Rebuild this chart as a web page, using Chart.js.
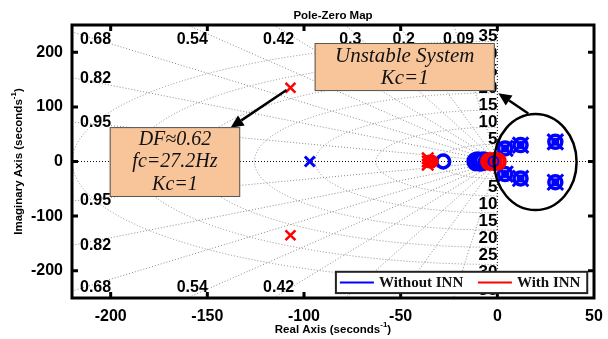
<!DOCTYPE html>
<html>
<head>
<meta charset="utf-8">
<script src="https://cdn.jsdelivr.net/npm/chart.js@4.4.1/dist/chart.umd.min.js"></script>
<style>
  html, body { margin: 0; padding: 0; background: #fff; }
  #wrap { width: 608px; height: 339px; }
</style>
</head>
<body>
<div id="wrap"><canvas id="pz" width="608" height="339"></canvas></div>
<script>
// axis ticks
const xTicks = [-200, -150, -100, -50, 0, 50];
const yTicks = [-200, -100, 0, 100, 200];

// sgrid: damping ratios and natural frequencies (Hz)
const dampingRatios = [0.09, 0.2, 0.3, 0.42, 0.54, 0.68, 0.82, 0.95];
const freqHz = [5, 10, 15, 20, 25, 30, 35];

const seriesNames = ['Without INN', 'With INN'];

// Without INN (blue)
const woPoleRe = [-97, 4, 4, 12, 12, 30, 30];
const woPoleIm = [0, 24, -23, 30, -31, 36, -38];
const woZeroRe = [-28, -11, -10, -9, -8, -7, -6, -5, -4, -3, 4, 4, 12, 12, 30, 30];
const woZeroIm = [0, 0, 1, -1, 0, 1, -1, 0, 0, 0, 24, -23, 30, -31, 36, -38];
const woRepeatRe = [-2, 4, 4, 12, 12, 30, 30];
const woRepeatIm = [0, 24, -23, 30, -31, 36, -38];

// With INN (red)
const wPoleRe = [-107, -107, -36, -36, -36];
const wPoleIm = [135, -135, 6, 0, -6];
const wZeroRe = [-35, -34, -4, -2, 0];
const wZeroIm = [0, 0, 0, 0, 0];

// annotation texts
const dfText = ['DF\u22480.62', 'fc=27.2Hz', 'Kc=1'];
const unstableText = ['Unstable System', 'Kc=1'];

const BLUE = 'rgb(0,0,255)';
const RED = 'rgb(255,0,0)';
const SANS = '"Liberation Sans", Arial, sans-serif';
const SERIF = '"Liberation Serif", "Times New Roman", serif';

const pts = (re, im) => re.map((v, i) => ({ x: v, y: im[i] }));

function arrow(ctx, x1, y1, x2, y2) {
    const ang = Math.atan2(y2 - y1, x2 - x1);
    const hl = 13, hw = 6;
    const bx = x2 - hl * Math.cos(ang), by = y2 - hl * Math.sin(ang);
    ctx.beginPath();
    ctx.moveTo(x1, y1);
    ctx.lineTo(bx, by);
    ctx.stroke();
    ctx.beginPath();
    ctx.moveTo(x2, y2);
    ctx.lineTo(bx + hw * Math.sin(ang), by - hw * Math.cos(ang));
    ctx.lineTo(bx - hw * Math.sin(ang), by + hw * Math.cos(ang));
    ctx.closePath();
    ctx.fill();
}

function textBox(ctx, x, y, box, lines, size, gap) {
    const l = x.getPixelForValue(box[0]), t = y.getPixelForValue(box[1]);
    const r = x.getPixelForValue(box[2]), b = y.getPixelForValue(box[3]);
    ctx.fillStyle = '#f8c59b';
    ctx.fillRect(l, t, r - l, b - t);
    ctx.strokeStyle = '#555';
    ctx.lineWidth = 1;
    ctx.strokeRect(l + 0.5, t + 0.5, r - l - 1, b - t - 1);
    ctx.fillStyle = '#111';
    ctx.font = 'italic ' + size + 'px ' + SERIF;
    ctx.textAlign = 'center';
    ctx.textBaseline = 'middle';
    const cx = (l + r) / 2, cy = (t + b) / 2;
    lines.forEach((s, i) => ctx.fillText(s, cx, cy + (i - (lines.length - 1) / 2) * gap));
}

const pzPlugin = {
    id: 'pzPlugin',
    beforeDatasetsDraw(chart) {
        const { ctx, chartArea: a, scales: { x, y } } = chart;
        const x0 = x.getPixelForValue(0), y0 = y.getPixelForValue(0);
        const sx = x.getPixelForValue(1) - x0, sy = y0 - y.getPixelForValue(1);
        ctx.save();
        ctx.beginPath();
        ctx.rect(a.left, a.top, a.right - a.left, a.bottom - a.top);
        ctx.clip();
        ctx.setLineDash([1, 2]);
        ctx.lineWidth = 1;
        ctx.strokeStyle = '#8a8a8a';
        // natural frequency semicircles
        freqHz.forEach(f => {
            const w = 2 * Math.PI * f;
            ctx.beginPath();
            ctx.ellipse(x0, y0, w * sx, w * sy, 0, Math.PI / 2, 3 * Math.PI / 2);
            ctx.stroke();
        });
        // damping rays
        dampingRatios.forEach(z => {
            const s = Math.sqrt(1 - z * z);
            [1, -1].forEach(sg => {
                ctx.beginPath();
                ctx.moveTo(x0, y0);
                ctx.lineTo(x.getPixelForValue(-z * 1000), y.getPixelForValue(sg * s * 1000));
                ctx.stroke();
            });
        });
        // real and imaginary axes
        ctx.strokeStyle = '#111';
        ctx.beginPath();
        ctx.moveTo(a.left, y0); ctx.lineTo(a.right, y0);
        ctx.moveTo(x0, a.top); ctx.lineTo(x0, a.bottom);
        ctx.stroke();
        ctx.restore();

        // grid labels
        ctx.save();
        ctx.fillStyle = '#000';
        ctx.font = 'bold 16px ' + SANS;
        const xmin = x.min, ymax = y.max;
        dampingRatios.forEach(z => {
            const s = Math.sqrt(1 - z * z);
            const tTop = ymax / s, tLeft = -xmin / z;
            [1, -1].forEach(sg => {
                ctx.textBaseline = 'middle';
                if (tTop <= tLeft) {
                    ctx.textAlign = 'center';
                    const px = x.getPixelForValue(-z * tTop) + 5;
                    ctx.fillText(String(z), px, sg > 0 ? a.top + 15 : a.bottom - 10);
                } else {
                    ctx.textAlign = 'left';
                    let py = y.getPixelForValue(sg * s * tLeft);
                    py = sg > 0 ? Math.max(py + 1, a.top + 15) : Math.min(py, a.bottom - 10);
                    ctx.fillText(String(z), a.left + 8, py);
                }
            });
        });
        ctx.font = 'bold 17px ' + SANS;
        ctx.textAlign = 'right';
        ctx.textBaseline = 'alphabetic';
        freqHz.forEach(f => {
            const w = 2 * Math.PI * f;
            ctx.fillText(String(f), x0, y.getPixelForValue(w));
            ctx.fillText(String(f), x0, y.getPixelForValue(-w) + 13);
        });
        ctx.restore();
    },
    afterDraw(chart) {
        const { ctx, chartArea: a, scales: { x, y } } = chart;
        ctx.save();
        // frame and inward ticks
        ctx.strokeStyle = '#000';
        ctx.lineWidth = 3;
        ctx.strokeRect(a.left, a.top, a.right - a.left, a.bottom - a.top);
        ctx.beginPath();
        xTicks.forEach(v => {
            const px = x.getPixelForValue(v);
            if (px <= a.left + 2 || px >= a.right - 2) return;
            ctx.moveTo(px, a.top); ctx.lineTo(px, a.top + 6);
            ctx.moveTo(px, a.bottom); ctx.lineTo(px, a.bottom - 6);
        });
        yTicks.forEach(v => {
            const py = y.getPixelForValue(v);
            ctx.moveTo(a.left, py); ctx.lineTo(a.left + 6, py);
            ctx.moveTo(a.right, py); ctx.lineTo(a.right - 6, py);
        });
        ctx.stroke();

        // title
        ctx.fillStyle = '#000';
        ctx.textAlign = 'center';
        ctx.textBaseline = 'middle';
        ctx.font = 'bold 11.5px ' + SANS;
        ctx.fillText('Pole-Zero Map', (a.left + a.right) / 2, 16);

        // axis titles with superscript
        const supTitle = (pre, cx, cy) => {
            ctx.font = 'bold 11.5px ' + SANS;
            const w1 = ctx.measureText(pre).width;
            ctx.font = 'bold 8px ' + SANS;
            const w2 = ctx.measureText('-1').width;
            ctx.font = 'bold 11.5px ' + SANS;
            const w3 = ctx.measureText(')').width;
            let sx0 = cx - (w1 + w2 + w3) / 2;
            ctx.textAlign = 'left';
            ctx.fillText(pre, sx0, cy);
            ctx.font = 'bold 8px ' + SANS;
            ctx.fillText('-1', sx0 + w1, cy - 5);
            ctx.font = 'bold 11.5px ' + SANS;
            ctx.fillText(')', sx0 + w1 + w2, cy);
        };
        supTitle('Real Axis (seconds', (a.left + a.right) / 2, 330);
        ctx.save();
        ctx.translate(19, (a.top + a.bottom) / 2);
        ctx.rotate(-Math.PI / 2);
        supTitle('Imaginary Axis (seconds', 0, 0);
        ctx.restore();

        // annotation ellipse around unstable poles
        ctx.strokeStyle = '#000';
        ctx.lineWidth = 2.5;
        const ecx = x.getPixelForValue(19.7), ecy = y.getPixelForValue(-1);
        const erx = x.getPixelForValue(19.7 + 21.3) - ecx, ery = ecy - y.getPixelForValue(-1 + 88);
        ctx.beginPath();
        ctx.ellipse(ecx, ecy, erx, ery, 0, 0, 2 * Math.PI);
        ctx.stroke();

        // arrows
        ctx.fillStyle = '#000';
        ctx.lineWidth = 2.5;
        arrow(ctx, x.getPixelForValue(-109), y.getPixelForValue(131), x.getPixelForValue(-138), y.getPixelForValue(62));
        arrow(ctx, x.getPixelForValue(16), y.getPixelForValue(88), x.getPixelForValue(0.5), y.getPixelForValue(125));

        // text boxes
        textBox(ctx, x, y, [-200.5, 63, -133, -65], dfText, 20, 22.5);
        textBox(ctx, x, y, [-94.5, 217, -1.3, 129], unstableText, 21, 22);

        // legend
        const ll = x.getPixelForValue(-83.5), lt = y.getPixelForValue(-202);
        const lr = x.getPixelForValue(46.5), lb = y.getPixelForValue(-241);
        ctx.fillStyle = '#fff';
        ctx.fillRect(ll, lt, lr - ll, lb - lt);
        ctx.strokeStyle = '#222';
        ctx.lineWidth = 2;
        ctx.strokeRect(ll, lt, lr - ll, lb - lt);
        const ly = (lt + lb) / 2;
        ctx.font = 'bold 15px ' + SERIF;
        ctx.textAlign = 'left';
        ctx.textBaseline = 'middle';
        [[BLUE, ll + 4, seriesNames[0]], [RED, ll + 142, seriesNames[1]]].forEach(([c, lx, name]) => {
            ctx.strokeStyle = c;
            ctx.lineWidth = 2;
            ctx.beginPath();
            ctx.moveTo(lx, ly); ctx.lineTo(lx + 34, ly);
            ctx.stroke();
            ctx.fillStyle = '#111';
            ctx.fillText(name, lx + 39, ly + 1);
        });
        ctx.restore();
    }
};

const tickFont = { family: SANS, size: 16, weight: 'bold' };
const nearOrigin = ctx => ctx.raw && ctx.raw.x > -60;

new Chart(document.getElementById('pz'), {
    type: 'scatter',
    data: {
        datasets: [
            { label: seriesNames[0] + ' zeros', data: pts(woZeroRe, woZeroIm), pointStyle: 'circle',
              borderColor: BLUE, backgroundColor: 'rgba(0,0,0,0)', borderWidth: 3.5,
              pointRadius: ctx => (ctx.raw && ctx.raw.x < -6 && ctx.raw.x > -20 ? 8 : 6.5), order: 6 },
            { label: seriesNames[0] + ' poles', data: pts(woPoleRe, woPoleIm), pointStyle: 'crossRot',
              borderColor: BLUE, borderWidth: 3, pointRadius: ctx => (nearOrigin(ctx) ? 11 : 7), order: 5 },
            { label: seriesNames[1] + ' zeros', data: pts(wZeroRe, wZeroIm), pointStyle: 'circle',
              borderColor: RED, backgroundColor: 'rgba(0,0,0,0)', borderWidth: 4,
              pointRadius: ctx => (ctx.raw && ctx.raw.x > -20 ? 7.5 : 5), order: 4 },
            { label: seriesNames[1] + ' poles', data: pts(wPoleRe, wPoleIm), pointStyle: 'crossRot',
              borderColor: RED, borderWidth: 2.5, pointRadius: ctx => (nearOrigin(ctx) ? 8 : 7), order: 3 },
            { label: seriesNames[0] + ' repeated', data: pts(woRepeatRe, woRepeatIm), pointStyle: 'circle',
              borderColor: BLUE, backgroundColor: 'rgba(0,0,0,0)', borderWidth: 2,
              pointRadius: ctx => (ctx.raw && ctx.raw.x < 0 ? 5 : 3), order: 1 }
        ]
    },
    options: {
        responsive: false,
        animation: false,
        devicePixelRatio: 1,
        layout: { padding: { left: 0, right: 10, top: 25, bottom: 0 } },
        plugins: { legend: { display: false }, tooltip: { enabled: false }, title: { display: false } },
        elements: { point: { hoverRadius: 0 } },
        scales: {
            x: {
                type: 'linear', min: -220, max: 50,
                afterBuildTicks: s => { s.ticks = xTicks.map(v => ({ value: v })); },
                afterFit: s => { s.height = 41; s.paddingLeft = 0; s.paddingRight = 0; },
                grid: { display: false, drawTicks: false },
                border: { display: false },
                ticks: { font: tickFont, color: '#000', padding: 9, maxRotation: 0, autoSkip: false }
            },
            y: {
                type: 'linear', min: -250, max: 250,
                afterBuildTicks: s => { s.ticks = yTicks.map(v => ({ value: v })); },
                afterFit: s => { s.width = 72; s.paddingTop = 0; s.paddingBottom = 0; },
                grid: { display: false, drawTicks: false },
                border: { display: false },
                ticks: { font: tickFont, color: '#000', padding: 9, autoSkip: false }
            }
        }
    },
    plugins: [pzPlugin]
});
</script>
</body>
</html>
